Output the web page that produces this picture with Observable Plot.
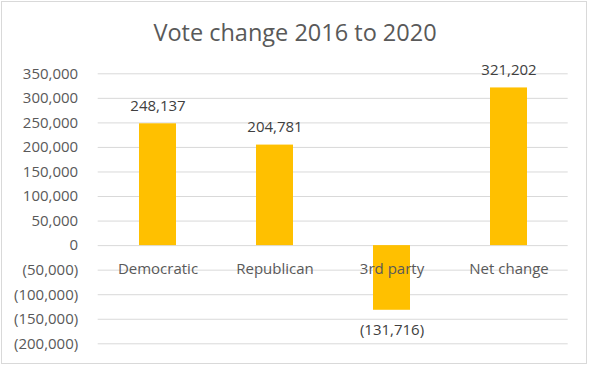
<!DOCTYPE html>
<html>
<head>
<meta charset="utf-8">
<script src="https://cdn.jsdelivr.net/npm/d3@7"></script>
<script src="https://cdn.jsdelivr.net/npm/@observablehq/plot@0.6"></script>
<style>
  html, body { margin: 0; padding: 0; background: #fff; }
  #wrap { position: relative; width: 590px; height: 366px; overflow: hidden; font-family: "Open Sans", sans-serif; }
  #frame { position: absolute; left: 1px; top: 1px; width: 586px; height: 363px; border: 1px solid #d9d9d9; box-sizing: border-box; pointer-events: none; }
  #title { position: absolute; left: 0; width: 590px; top: 21px; text-align: center; font-size: 23.5px; color: #595959; line-height: 1; }
  #chart { position: absolute; left: 0; top: 0; }
</style>
</head>
<body>
<div id="wrap">
  <div id="chart"></div>
  <div id="title">Vote change 2016 to 2020</div>
  <div id="frame"></div>
</div>
<script>
const categories = ["Democratic", "Republican", "3rd party", "Net change"];
const values = [248137, 204781, -131716, 321202];
const yTicks = [-200000, -150000, -100000, -50000, 0, 50000, 100000, 150000, 200000, 250000, 300000, 350000];

const data = categories.map((c, i) => ({category: c, value: values[i]}));
const fmt = d3.format(",");
const acct = d => d < 0 ? `(${fmt(-d)})` : fmt(d);

const chart = Plot.plot({
  width: 590,
  height: 366,
  marginTop: 73.3,
  marginBottom: 22.7,
  marginLeft: 97.7,
  marginRight: 22.3,
  style: {fontFamily: "Open Sans, sans-serif", background: "transparent", overflow: "visible"},
  x: {domain: categories, paddingInner: 0.685, paddingOuter: 0.3425, axis: null},
  y: {domain: [-200000, 350000], axis: null},
  marks: [
    Plot.gridY(yTicks, {stroke: "#d9d9d9", strokeOpacity: 1, strokeWidth: 1}),
    Plot.axisY(yTicks, {tickSize: 0, tickPadding: 20, tickFormat: acct, fontSize: 15, fill: "#595959", label: null}),
    Plot.barY(data, {x: "category", y: "value", fill: "#FFC000"}),
    Plot.text(data, {x: "category", y: 0, text: "category", lineAnchor: "bottom", dy: 28, fontSize: 15, fill: "#595959"}),
    Plot.text(data.filter(d => d.value >= 0), {x: "category", y: "value", text: d => acct(d.value), lineAnchor: "bottom", dy: -13, fontSize: 15, fill: "#404040"}),
    Plot.text(data.filter(d => d.value < 0), {x: "category", y: "value", text: d => acct(d.value), lineAnchor: "top", dy: 14, fontSize: 15, fill: "#404040"})
  ]
});
document.getElementById("chart").appendChild(chart);
</script>
</body>
</html>
